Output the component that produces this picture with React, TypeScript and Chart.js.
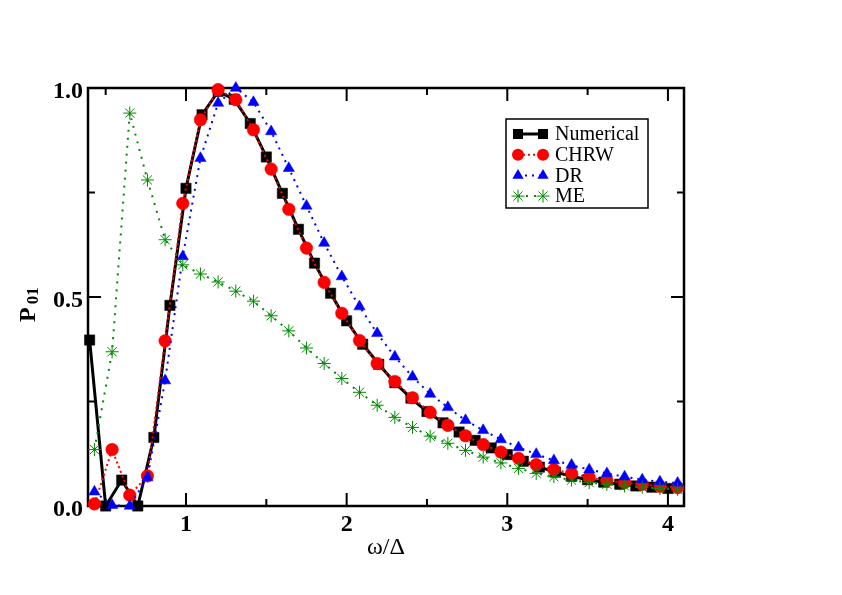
import React, { useEffect, useRef } from 'react';
import { Chart, registerables } from 'chart.js';

Chart.register(...registerables);

// ---- data ----
const seriesNames = ['Numerical', 'CHRW', 'DR', 'ME'];

const numericalX = [
  0.4, 0.5, 0.6, 0.7, 0.8, 0.9, 1.0, 1.1, 1.2, 1.3, 1.4, 1.5, 1.6, 1.7, 1.8, 1.9,
  2.0, 2.1, 2.2, 2.3, 2.4, 2.5, 2.6, 2.7, 2.8, 2.9, 3.0, 3.1, 3.2, 3.3, 3.4, 3.5,
  3.6, 3.7, 3.8, 3.9, 4.0,
];
const numericalY = [
  0.397, 0.0, 0.062, 0.0, 0.164, 0.48, 0.76, 0.936, 0.992, 0.973, 0.915, 0.835,
  0.748, 0.662, 0.581, 0.509, 0.443, 0.387, 0.339, 0.295, 0.258, 0.226, 0.199,
  0.177, 0.157, 0.139, 0.123, 0.107, 0.093, 0.081, 0.071, 0.063, 0.057, 0.052,
  0.048, 0.045, 0.042,
];

const approxX = [
  0.43, 0.54, 0.65, 0.76, 0.87, 0.98, 1.09, 1.2, 1.31, 1.42, 1.53, 1.64, 1.75,
  1.86, 1.97, 2.08, 2.19, 2.3, 2.41, 2.52, 2.63, 2.74, 2.85, 2.96, 3.07, 3.18,
  3.29, 3.4, 3.51, 3.62, 3.73, 3.84, 3.95, 4.06,
];
const chrwY = [
  0.005, 0.135, 0.026, 0.072, 0.395, 0.724, 0.924, 0.996, 0.972, 0.9, 0.806,
  0.71, 0.617, 0.535, 0.461, 0.396, 0.341, 0.298, 0.259, 0.224, 0.193, 0.168,
  0.147, 0.129, 0.114, 0.099, 0.087, 0.078, 0.068, 0.061, 0.056, 0.052, 0.047,
  0.044,
];
const drY = [
  0.034, 0.002, 0.0, 0.068, 0.3, 0.597, 0.832, 0.964, 1.0, 0.966, 0.896, 0.808,
  0.718, 0.629, 0.549, 0.477, 0.413, 0.357, 0.309, 0.268, 0.236, 0.205, 0.181,
  0.159, 0.14, 0.124, 0.109, 0.098, 0.087, 0.078, 0.07, 0.063, 0.058, 0.055,
];
const meY = [
  0.135, 0.369, 0.94, 0.78, 0.637, 0.577, 0.555, 0.536, 0.514, 0.49, 0.455,
  0.419, 0.378, 0.341, 0.305, 0.272, 0.241, 0.212, 0.188, 0.167, 0.15, 0.133,
  0.117, 0.103, 0.09, 0.078, 0.07, 0.062, 0.056, 0.052, 0.048, 0.045, 0.042,
  0.04,
];

const xMajorTicks = [1, 2, 3, 4];
const xMinorTicks = [0.5, 1.5, 2.5, 3.5];
const yMajorTicks = [0, 0.5, 1.0];
const yMinorTicks = [0.25, 0.75];

const xTitle = 'ω/Δ';
const yTitleMain = 'P';
const yTitleSub = '01';

// ---- styling ----
const SERIF = '"Liberation Serif", "Times New Roman", Times, serif';
const GREEN = '#008b00';

const toPoints = (xs: number[], ys: number[]) => xs.map((x, i) => ({ x, y: ys[i] }));

type Sty = { color: string; dash: number[]; width: number; marker: string };
const styles: Sty[] = [
  { color: '#000000', dash: [], width: 3, marker: 'rect' },
  { color: '#ff0000', dash: [2, 3], width: 2, marker: 'circle' },
  { color: '#0000ff', dash: [2, 5], width: 2, marker: 'triangle' },
  { color: GREEN, dash: [2, 6], width: 2, marker: 'star' },
];

function drawMarker(ctx: CanvasRenderingContext2D, kind: string, x: number, y: number, color: string) {
  ctx.save();
  ctx.setLineDash([]);
  ctx.fillStyle = color;
  ctx.strokeStyle = color;
  ctx.beginPath();
  if (kind === 'rect') {
    ctx.rect(x - 5, y - 5, 10, 10);
    ctx.fill();
  } else if (kind === 'circle') {
    ctx.arc(x, y, 6, 0, Math.PI * 2);
    ctx.fill();
  } else if (kind === 'triangle') {
    const r = 6.5;
    ctx.moveTo(x, y - r);
    ctx.lineTo(x + r * 0.866, y + r * 0.5);
    ctx.lineTo(x - r * 0.866, y + r * 0.5);
    ctx.closePath();
    ctx.fill();
  } else {
    const r = 6.5;
    ctx.lineWidth = 1;
    for (let k = 0; k < 4; k++) {
      const a = (k * Math.PI) / 4;
      ctx.moveTo(x - Math.cos(a) * r, y - Math.sin(a) * r);
      ctx.lineTo(x + Math.cos(a) * r, y + Math.sin(a) * r);
    }
    ctx.stroke();
  }
  ctx.restore();
}

const framePlugin = {
  id: 'frameTicks',
  beforeDatasetsDraw(chart: any) {
    const { ctx, chartArea: a, scales } = chart;
    const xs = scales.x;
    const ys = scales.y;
    ctx.save();
    ctx.strokeStyle = '#000';
    ctx.lineWidth = 2;
    ctx.beginPath();
    const xt = (vals: number[], len: number) => {
      vals.forEach((v) => {
        const p = xs.getPixelForValue(v);
        ctx.moveTo(p, a.bottom);
        ctx.lineTo(p, a.bottom - len);
        ctx.moveTo(p, a.top);
        ctx.lineTo(p, a.top + len);
      });
    };
    const yt = (vals: number[], len: number) => {
      vals.forEach((v) => {
        const p = ys.getPixelForValue(v);
        ctx.moveTo(a.left, p);
        ctx.lineTo(a.left + len, p);
        ctx.moveTo(a.right, p);
        ctx.lineTo(a.right - len, p);
      });
    };
    xt(xMajorTicks, 13);
    xt(xMinorTicks, 7);
    yt(yMajorTicks, 13);
    yt(yMinorTicks, 7);
    ctx.stroke();
    ctx.lineWidth = 2.5;
    ctx.strokeRect(a.left, a.top, a.right - a.left, a.bottom - a.top);
    ctx.restore();
  },
  afterDraw(chart: any) {
    const { ctx } = chart;
    // y-axis title with subscript
    ctx.save();
    ctx.fillStyle = '#000';
    ctx.translate(35, 322);
    ctx.rotate(-Math.PI / 2);
    ctx.textAlign = 'left';
    ctx.textBaseline = 'alphabetic';
    ctx.font = `bold 24px ${SERIF}`;
    ctx.fillText(yTitleMain, 0, 0);
    const w = ctx.measureText(yTitleMain).width;
    ctx.font = `bold 17px ${SERIF}`;
    ctx.fillText(yTitleSub, w + 3, 3);
    ctx.restore();

    // legend
    const bx = 506, by = 119, bw = 142, bh = 89;
    ctx.save();
    ctx.fillStyle = '#fff';
    ctx.fillRect(bx, by, bw, bh);
    ctx.strokeStyle = '#000';
    ctx.lineWidth = 1.5;
    ctx.strokeRect(bx, by, bw, bh);
    ctx.font = `20px ${SERIF}`;
    ctx.textBaseline = 'middle';
    ctx.textAlign = 'left';
    seriesNames.forEach((name, i) => {
      const s = styles[i];
      const cy = 134 + i * 20.7;
      ctx.save();
      ctx.strokeStyle = s.color;
      ctx.lineWidth = s.width;
      ctx.setLineDash(s.dash);
      ctx.beginPath();
      ctx.moveTo(518, cy);
      ctx.lineTo(543, cy);
      ctx.stroke();
      ctx.restore();
      drawMarker(ctx, s.marker, 518, cy, s.color);
      drawMarker(ctx, s.marker, 543, cy, s.color);
      ctx.fillStyle = '#000';
      ctx.fillText(name, 555, cy + 1);
    });
    ctx.restore();
  },
};

export default function App() {
  const ref = useRef<HTMLCanvasElement | null>(null);

  useEffect(() => {
    if (!ref.current) return;
    const seriesData = [
      toPoints(numericalX, numericalY),
      toPoints(approxX, chrwY),
      toPoints(approxX, drY),
      toPoints(approxX, meY),
    ];
    const radii = [7.3, 6.3, 6.5, 6.5];
    const chart = new Chart(ref.current, {
      type: 'line',
      data: {
        datasets: seriesNames.map((name, i) => ({
          label: name,
          data: seriesData[i],
          borderColor: styles[i].color,
          backgroundColor: styles[i].color,
          borderWidth: styles[i].width,
          borderDash: styles[i].dash,
          pointStyle: styles[i].marker as any,
          pointRadius: radii[i],
          pointBackgroundColor: styles[i].marker === 'star' ? 'rgba(0,0,0,0)' : styles[i].color,
          pointBorderColor: styles[i].color,
          pointBorderWidth: styles[i].marker === 'star' ? 1 : 0.5,
          tension: 0,
          fill: false,
          clip: false as any,
          order: 4 - i,
        })),
      },
      options: {
        animation: false,
        responsive: false,
        devicePixelRatio: 1,
        layout: { padding: { left: 0, top: 88, right: 158, bottom: 0 } },
        plugins: { legend: { display: false }, tooltip: { enabled: false } },
        scales: {
          x: {
            type: 'linear',
            min: 0.39,
            max: 4.1,
            grid: { display: false, drawTicks: false },
            border: { display: false },
            ticks: {
              stepSize: 1,
              includeBounds: false,
              autoSkip: false,
              maxRotation: 0,
              padding: 4,
              color: '#000',
              font: { family: SERIF, size: 24, weight: 'bold' },
              callback: (v: any) => (xMajorTicks.includes(Number(v)) ? String(v) : ''),
            },
            title: {
              display: true,
              text: xTitle,
              color: '#000',
              font: { family: SERIF, size: 24, weight: 'normal' },
              padding: { top: 0, bottom: 33 },
            },
            afterFit: (s: any) => {
              s.height = 89;
            },
          },
          y: {
            type: 'linear',
            min: 0,
            max: 1,
            grid: { display: false, drawTicks: false },
            border: { display: false },
            ticks: {
              stepSize: 0.5,
              padding: 5,
              labelOffset: 4,
              color: '#000',
              font: { family: SERIF, size: 24, weight: 'bold' },
              callback: (v: any) => Number(v).toFixed(1),
            },
            afterFit: (s: any) => {
              s.width = 88;
            },
          },
        },
      },
      plugins: [framePlugin],
    });
    return () => chart.destroy();
  }, []);

  return (
    <div style={{ position: 'absolute', left: 0, top: 0, width: 842, height: 595, background: '#fff' }}>
      <canvas ref={ref} width={842} height={595} style={{ width: 842, height: 595 }} />
    </div>
  );
}
